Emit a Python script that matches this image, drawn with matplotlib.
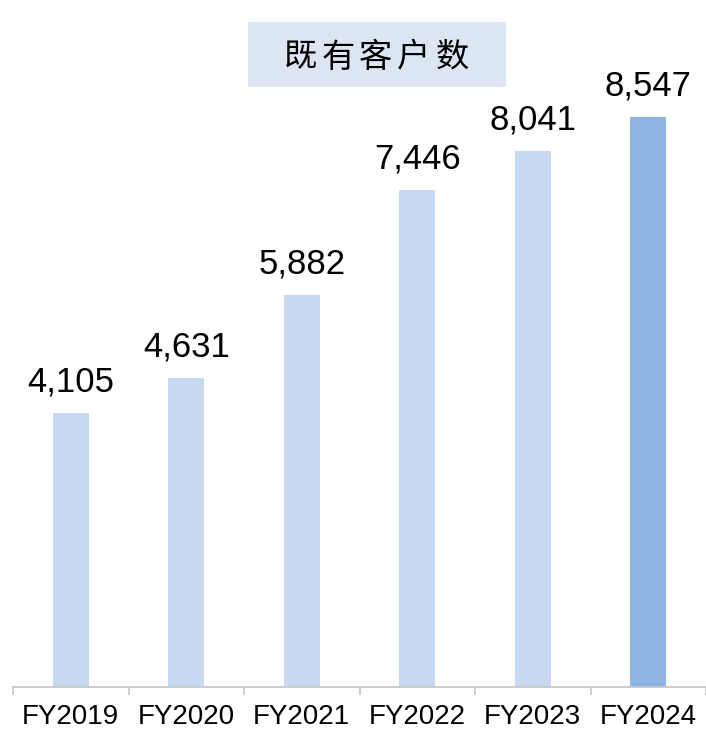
import matplotlib.pyplot as plt
from matplotlib.patches import Rectangle

plt.rcParams['font.family'] = ['Liberation Sans', 'Noto Sans CJK SC', 'DejaVu Sans']

years = ['FY2019', 'FY2020', 'FY2021', 'FY2022', 'FY2023', 'FY2024']
customers = [4105, 4631, 5882, 7446, 8041, 8547]
title = '既有客户数'

colors = ['#C6D9F1'] * 5 + ['#8EB4E3']

W, H = 706, 731
step = 116.3  # pixels per category
fig = plt.figure(figsize=(W / 100, H / 100), dpi=100)
ax = fig.add_axes([13 / W, 44 / H, 1 - 13 / W, 687 / H])

x = range(len(years))
bars = ax.bar(x, customers, width=0.31, color=colors)

for b, v in zip(bars, customers):
    ax.text(b.get_x() + b.get_width() / 2, v + 220, f'{v:,}',
            ha='center', va='bottom', fontsize=25)

ax.set_xlim(-0.5, -0.5 + (W - 13) / step)
ax.set_ylim(0, 687 / 570 * 8547)

for s in ['top', 'right', 'left']:
    ax.spines[s].set_visible(False)
ax.spines['bottom'].set_color('#C8C8C8')
ax.spines['bottom'].set_linewidth(1.3)
ax.set_yticks([])

# tick marks at category boundaries, labels at centers
ax.set_xticks([i - 0.5 for i in range(len(years) + 1)])
ax.set_xticklabels([])
ax.tick_params(axis='x', length=6, color='#C8C8C8', width=1.3)
for i, yr in enumerate(years):
    ax.text(i, -17 / 687, yr, transform=ax.get_xaxis_transform(),
            ha='center', va='top', fontsize=20)

# title box
fig.patches.append(Rectangle((248 / W, 1 - 87 / H), 258 / W, 65 / H,
                             transform=fig.transFigure, facecolor='#DCE6F2',
                             edgecolor='none'))
for i, ch in enumerate(title):
    fig.text((376 + (i - 2) * 38) / W, 1 - 57 / H, ch, ha='center', va='center',
             fontsize=24, family=['Noto Sans CJK SC'])

fig.savefig('out.png', dpi=100)
